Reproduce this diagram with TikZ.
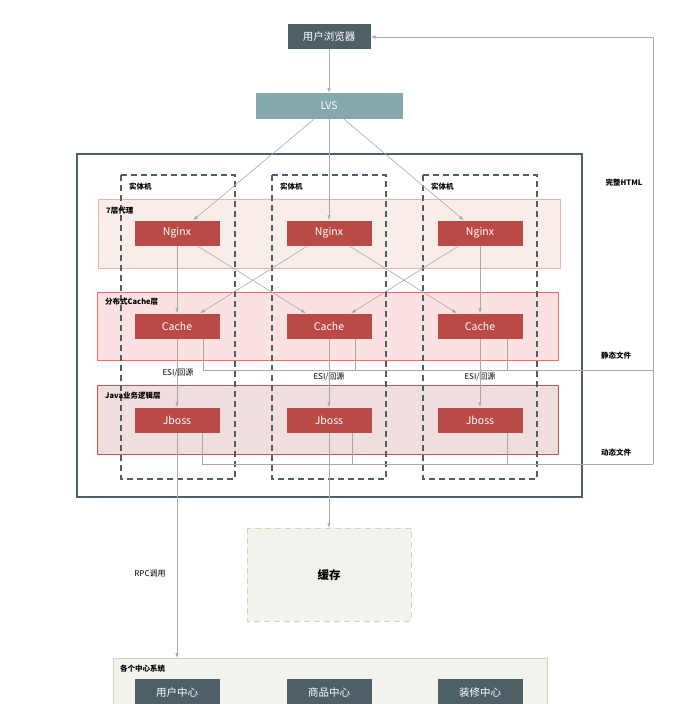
\documentclass[tikz,border=0pt]{standalone}
\usepackage{fontspec}
\setmainfont{Noto Sans CJK SC}
\usetikzlibrary{arrows.meta}
\definecolor{slate}{HTML}{4E5F66}
\definecolor{lvsc}{HTML}{84A9AD}
\definecolor{redbox}{HTML}{B94A46}
\definecolor{wire}{HTML}{A9A9A9}
\definecolor{proxyfill}{HTML}{F9EDEA}
\definecolor{proxyline}{HTML}{EFB3A8}
\definecolor{cachefill}{HTML}{FBE1E1}
\definecolor{cacheline}{HTML}{EE6B67}
\definecolor{javafill}{HTML}{F0DDDD}
\definecolor{javaline}{HTML}{C25552}
\definecolor{greyfill}{HTML}{F2F3ED}
\definecolor{greyline}{HTML}{D0D7B8}
\tikzset{
  box/.style={fill=#1,text=white,font=\fontsize{10.5}{12}\selectfont,inner sep=0pt},
  srv/.style={box=redbox,minimum width=85pt,minimum height=25pt},
  tag/.style={font=\bfseries\fontsize{7.5}{8}\selectfont,inner sep=0pt},
  note/.style={font=\fontsize{8}{9}\selectfont,inner sep=0pt},
  link/.style={draw=wire,line width=0.6pt},
  arr/.style={link,-{Latex[length=5pt,width=3.5pt]}},
  host/.style={draw=slate,line width=1.1pt,dash pattern=on 6pt off 4pt}
}
\begin{document}
\begin{tikzpicture}[x=1pt,y=-1pt]
\useasboundingbox (0,0) rectangle (693,704);

\draw[slate,line width=1.2pt] (77,154) rectangle (582,497);
\draw[fill=proxyfill,draw=proxyline,line width=0.8pt] (98,199) rectangle (560,268);
\draw[fill=cachefill,draw=cacheline,line width=1pt] (97,292) rectangle (558,360);
\draw[fill=javafill,draw=javaline,line width=1pt] (97,385) rectangle (558,454);
\draw[host] (121,175) rectangle (235,479);
\draw[host] (272,175) rectangle (386,479);
\draw[host] (423,175) rectangle (537,479);
\draw[fill=greyfill,draw=greyline,line width=1pt,dash pattern=on 6pt off 4pt] (247,528) rectangle (411,621);
\draw[fill=greyfill,draw=greyline,line width=1pt] (113,658) rectangle (547,730);

\node[box=slate,minimum width=83pt,minimum height=25pt] (browser) at (329,36.5) {用户浏览器};
\node[box=lvsc,minimum width=147pt,minimum height=26pt] (lvs) at (329,106) {LVS};

\node[srv] (ngx1) at (177,233) {Nginx};
\node[srv] (ngx2) at (329,233) {Nginx};
\node[srv] (ngx3) at (480,233) {Nginx};
\node[srv] (cache1) at (177,326) {Cache};
\node[srv] (cache2) at (329,326) {Cache};
\node[srv] (cache3) at (480,326) {Cache};
\node[srv] (jboss1) at (177,420) {Jboss};
\node[srv] (jboss2) at (329,420) {Jboss};
\node[srv] (jboss3) at (480,420) {Jboss};

\node[box=slate,minimum width=85pt,minimum height=30pt,anchor=north] (user) at (177,679) {\raisebox{4pt}{用户中心}};
\node[box=slate,minimum width=85pt,minimum height=30pt,anchor=north] (goods) at (329,679) {\raisebox{4pt}{商品中心}};
\node[box=slate,minimum width=85pt,minimum height=30pt,anchor=north] (deco) at (480,679) {\raisebox{4pt}{装修中心}};

\node[tag,anchor=west] (host1) at (129,187) {实体机};
\node[tag,anchor=west] (host2) at (280,187) {实体机};
\node[tag,anchor=west] (host3) at (431,187) {实体机};
\node[tag,anchor=west] (l7) at (106,211) {7层代理};
\node[tag,anchor=west] (lcache) at (105,302) {分布式Cache层};
\node[tag,anchor=west] (ljava) at (105,396) {Java业务逻辑层};
\node[tag,anchor=west] (lcenter) at (120,669) {各个中心系统};
\node[font=\bfseries\fontsize{11.5}{13}\selectfont] (store) at (329,575) {缓存};
\node[note] (esi1) at (178,373) {ESI/回源};
\node[note] (esi2) at (329,377) {ESI/回源};
\node[note] (esi3) at (480,377) {ESI/回源};
\node[note] (rpc) at (150,574) {RPC调用};
\node[tag] (html) at (624,183) {完整HTML};
\node[tag] (static) at (616,356) {静态文件};
\node[tag] (dynamic) at (616,453) {动态文件};

\coordinate (sright) at (653,370);
\coordinate (dright) at (653,464);
\coordinate (top) at (653,37);

\draw[arr] (browser) -- (lvs);
\draw[arr] ([xshift=-15pt]lvs.south) -- ([xshift=16pt]ngx1.north);
\draw[arr] (lvs) -- (ngx2);
\draw[arr] ([xshift=15pt]lvs.south) -- ([xshift=-16pt]ngx3.north);

\draw[arr] (ngx1) -- (cache1);
\draw[arr] ([xshift=20pt]ngx1.south) -- ([xshift=-23pt]cache2.north);
\draw[arr] ([xshift=-21pt]ngx2.south) -- ([xshift=23pt]cache1.north);
\draw[arr] ([xshift=20pt]ngx2.south) -- ([xshift=-23pt]cache3.north);
\draw[arr] ([xshift=-21pt]ngx3.south) -- ([xshift=22pt]cache2.north);
\draw[arr] (ngx3) -- (cache3);

\draw[arr] (cache1) -- (jboss1);
\draw[arr] (cache2) -- (jboss2);
\draw[arr] (cache3) -- (jboss3);

\draw[link] ([xshift=26pt]cache1.south) |- (sright);
\draw[link] ([xshift=26pt]cache2.south) -- ([xshift=26pt]cache2.south |- sright);
\draw[link] ([xshift=27pt]cache3.south) -- ([xshift=27pt]cache3.south |- sright);
\draw[link] ([xshift=25pt]jboss1.south) |- (dright);
\draw[link] ([xshift=23pt]jboss2.south) -- ([xshift=23pt]jboss2.south |- dright);
\draw[link] ([xshift=27pt]jboss3.south) -- ([xshift=27pt]jboss3.south |- dright);
\draw[link] (sright) -- (dright);
\draw[arr] (dright) -- (top) -- (browser.east |- top);

\draw[arr] (jboss1) -- (jboss1 |- 0,658);
\draw[arr] (jboss2) -- (store.center |- 0,528);
\end{tikzpicture}
\end{document}
